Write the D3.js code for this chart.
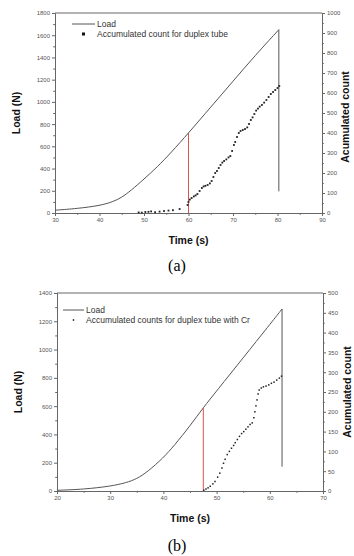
<!DOCTYPE html>
<html><head><meta charset="utf-8">
<script src="https://cdn.jsdelivr.net/npm/d3@7"></script>
<style>body{margin:0;background:#fff}svg{display:block}</style>
</head><body>
<svg id="c" width="354" height="556"></svg>
<script>
// ---------- Data: panel (a) ----------
const loadA = [[30,25],[35,40],[40,66],[43,100],[45,140],[47,200],[50,305],[53,415],[56,540],[60,720],[65,953],[70,1186],[75,1419],[80.3,1650],[80.3,195]];
const countA = [[48.8,3],[49.5,2],[50.3,5],[51,6],[51.6,8],[52.5,4],[53.5,7],[54.5,10],[55.5,12],[56.5,14],[58,20],[59.8,40],[60,55],[60.3,67],[60.7,75],[61.2,83],[61.6,88],[62,95],[62.5,110],[63,125],[63.4,133],[63.8,136],[64.3,140],[64.8,148],[65.2,160],[65.6,180],[66,200],[66.4,210],[66.8,225],[67.2,240],[67.6,252],[68,260],[68.5,268],[69,278],[69.4,285],[69.8,310],[70.2,340],[70.5,355],[70.9,380],[71.3,400],[71.7,410],[72.2,415],[72.7,420],[73.2,428],[73.6,445],[74,465],[74.4,478],[74.8,495],[75.2,512],[75.6,522],[76,532],[76.5,540],[77,552],[77.5,565],[78,580],[78.5,595],[79,605],[79.5,615],[80,625],[80.4,635]];
const markerA = [[60,0],[60,720]];
const xTicksA = [30,40,50,60,70,80,90];
const yTicksA = [0,200,400,600,800,1000,1200,1400,1600,1800];
const y2TicksA = [0,100,200,300,400,500,600,700,800,900,1000];
const legendA = ["Load","Accumulated count for duplex tube"];

// ---------- Data: panel (b) ----------
const loadB = [[20,5],[25,12],[30,33],[33,58],[35,86],[37,135],[40,235],[42,320],[45,460],[47.5,590],[50,707],[55,942],[60,1177],[62.3,1287],[62.3,172]];
const countB = [[47.6,2],[48,5],[48.4,8],[48.8,12],[49.3,18],[49.7,24],[50.2,35],[50.6,45],[51,58],[51.3,70],[51.6,80],[52,92],[52.4,100],[52.8,108],[53.2,115],[53.5,122],[53.9,130],[54.3,138],[54.7,145],[55.1,150],[55.5,156],[55.9,162],[56.3,168],[56.7,172],[57,185],[57.2,200],[57.4,215],[57.6,230],[57.8,245],[58,255],[58.4,260],[58.8,263],[59.3,265],[59.8,268],[60.3,272],[60.8,275],[61.3,280],[61.8,285],[62.2,290]];
const markerB = [[47.5,0],[47.5,590]];
const xTicksB = [20,30,40,50,60,70];
const yTicksB = [0,200,400,600,800,1000,1200,1400];
const y2TicksB = [0,50,100,150,200,250,300,350,400,450,500];
const legendB = ["Load","Accumulated counts for duplex tube with Cr"];

const svg = d3.select("#c");
const AX = "#666", TXT = "#555", LINE = "#555", RED = "#d9534f";
const FONT = "Liberation Sans, Arial, sans-serif";

function panel(o){
  const x = d3.scaleLinear().domain([o.xT[0], o.xT[o.xT.length-1]]).range([o.l, o.r]);
  const y = d3.scaleLinear().domain([o.yT[0], o.yT[o.yT.length-1]]).range([o.b, o.t]);
  const y2 = d3.scaleLinear().domain([o.y2T[0], o.y2T[o.y2T.length-1]]).range([o.b, o.t]);
  const g = svg.append("g");
  const half = (arr)=>{const s=arr[1]-arr[0]; const out=[]; for(let i=0;i<arr.length-1;i++) out.push(arr[i]+s/2); return out;};

  function axis(gen, scale, ticks, transform, minor){
    const a = g.append("g").attr("transform", transform)
      .call(gen(scale).tickValues(ticks).tickSize(3).tickPadding(2).tickFormat(d3.format("d")));
    a.select(".domain").attr("stroke", AX);
    a.selectAll(".tick line").attr("stroke", AX);
    a.selectAll("text").attr("fill", TXT).style("font", "6px " + FONT);
    const m = g.append("g").attr("transform", transform)
      .call(gen(scale).tickValues(minor).tickSize(1.8).tickFormat(""));
    m.select(".domain").remove();
    m.selectAll("line").attr("stroke", AX);
  }
  axis(d3.axisBottom, x, o.xT, `translate(0,${o.b})`, half(o.xT));
  axis(d3.axisLeft, y, o.yT, `translate(${o.l},0)`, half(o.yT));
  axis(d3.axisRight, y2, o.y2T, `translate(${o.r},0)`, half(o.y2T));
  g.append("line").attr("x1",o.l).attr("x2",o.r).attr("y1",o.t).attr("y2",o.t).attr("stroke",AX);

  // load curve
  g.append("path").datum(o.load.slice(0,-1))
    .attr("d", d3.line().x(d=>x(d[0])).y(d=>y(d[1])).curve(d3.curveBasis))
    .attr("fill","none").attr("stroke",LINE).attr("stroke-width",1);
  g.append("path").datum(o.load.slice(-2))
    .attr("d", d3.line().x(d=>x(d[0])).y(d=>y(d[1])))
    .attr("fill","none").attr("stroke",LINE).attr("stroke-width",1);
  // red marker
  g.append("path").datum(o.marker)
    .attr("d", d3.line().x(d=>x(d[0])).y(d=>y(d[1])))
    .attr("stroke",RED).attr("stroke-width",1);
  // counts
  g.selectAll(null).data(o.count).enter().append("rect")
    .attr("x", d=>x(d[0])-o.ms/2).attr("y", d=>y2(d[1])-o.ms/2)
    .attr("width", o.ms).attr("height", o.ms).attr("fill","#222");

  // legend
  g.append("line").attr("x1",o.lg.x1).attr("x2",o.lg.x2).attr("y1",o.lg.y).attr("y2",o.lg.y).attr("stroke",LINE);
  g.append("rect").attr("x",(o.lg.x1+o.lg.x2)/2-o.lg.ms/2).attr("y",o.lg.y+10-o.lg.ms/2).attr("width",o.lg.ms).attr("height",o.lg.ms).attr("fill","#111");
  g.append("text").attr("x",o.lg.x2+2).attr("y",o.lg.y).attr("dy","0.35em").text(o.legend[0])
    .style("font","8.5px "+FONT).attr("fill","#333");
  g.append("text").attr("x",o.lg.x2+2).attr("y",o.lg.y+10).attr("dy","0.35em").text(o.legend[1])
    .style("font","8.5px "+FONT).attr("fill","#333");

  // titles
  g.append("text").attr("x",(o.l+o.r)/2).attr("y",o.b+27).attr("dy","0.35em").attr("text-anchor","middle")
    .text("Time (s)").style("font","bold 10.5px "+FONT).attr("fill","#111");
  g.append("text").attr("transform",`translate(${o.ly},${(o.t+o.b)/2}) rotate(-90)`).attr("dy","0.35em").attr("text-anchor","middle")
    .text("Load (N)").style("font","bold 10.5px "+FONT).attr("fill","#111");
  g.append("text").attr("transform",`translate(${o.ry},${(o.t+o.b)/2+o.roff}) rotate(-90)`).attr("dy","0.35em").attr("text-anchor","middle")
    .text("Acumulated count").style("font","bold 10.5px "+FONT).attr("fill","#111");
  g.append("text").attr("x",177).attr("y",o.cap).attr("dy","0.35em").attr("text-anchor","middle")
    .text(o.capText).style("font","16px Liberation Serif, Times New Roman, serif").attr("fill","#000");
}

panel({l:55,r:322,t:13,b:213,xT:xTicksA,yT:yTicksA,y2T:y2TicksA,load:loadA,count:countA,marker:markerA,ms:1.8,
  legend:legendA,lg:{x1:72,x2:95,y:24,ms:3},ly:16,ry:345,roff:4,cap:265,capText:"(a)"});
panel({l:57,r:323,t:293,b:491,xT:xTicksB,yT:yTicksB,y2T:y2TicksB,load:loadB,count:countB,marker:markerB,ms:1.5,
  legend:legendB,lg:{x1:63,x2:84,y:310,ms:1.5},ly:18,ry:347,roff:0,cap:545,capText:"(b)"});
</script>
</body></html>
